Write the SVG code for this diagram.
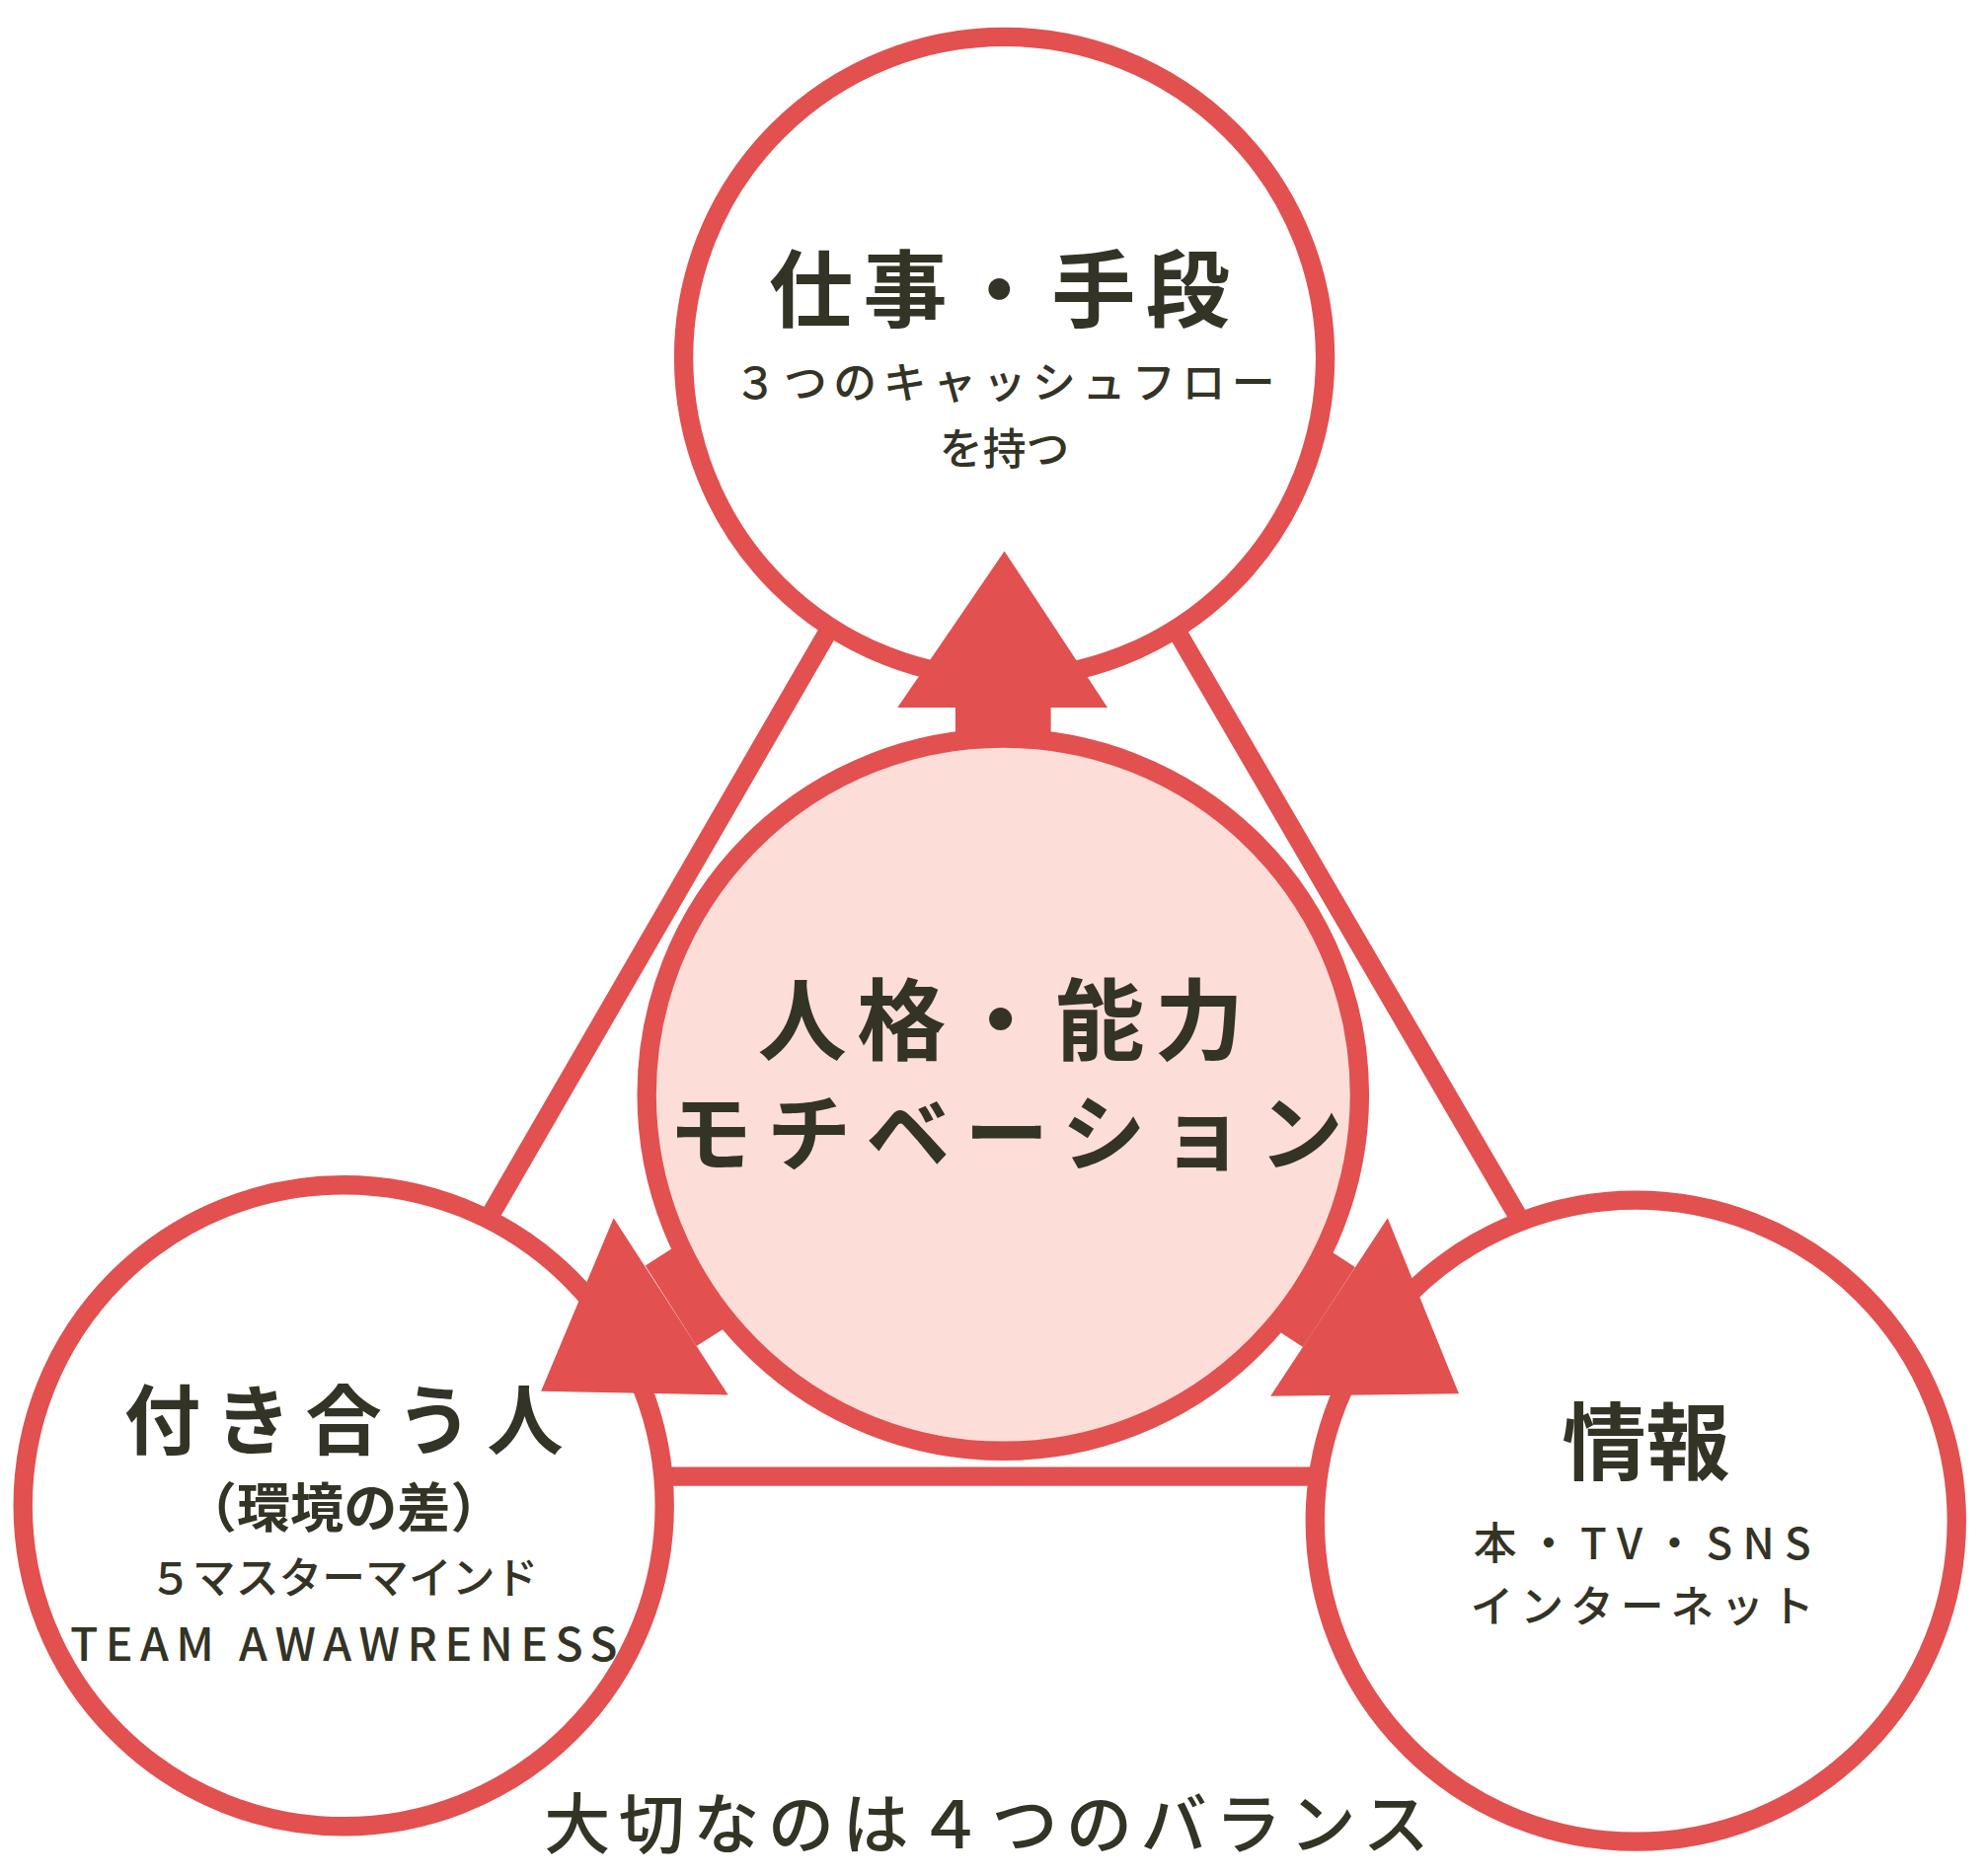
<svg xmlns="http://www.w3.org/2000/svg" width="2012" height="1901" viewBox="0 0 2012 1901">
<style>
.r{stroke:#E25050;stroke-width:15;fill:#fff}
.l{stroke:#E25050;stroke-width:15;fill:none}
.a{fill:#E25050}
.s{stroke:#E25050;stroke-width:75}
text{font-family:"Noto Sans CJK JP","Liberation Sans",sans-serif;fill:#333326;text-anchor:middle}
.b{font-weight:bold}
.m{font-weight:500}
</style>
<rect width="2012" height="1901" fill="#fff"/>
<g transform="scale(1.2897)">
<g id="connectors">
<line class="l" x1="650" y1="497" x2="385" y2="955"/>
<line class="l" x1="925" y1="497" x2="1192" y2="955"/>
<line class="l" x1="520" y1="1160" x2="1040" y2="1160"/>
</g>
<g id="work"><circle class="r" cx="789" cy="281" r="252"/>
<text class="b" x="789" y="252" font-size="66" letter-spacing="8">仕事・手段</text>
<text class="m" x="789" y="313" font-size="34" textLength="425">３つのキャッシュフロー</text>
<text class="m" x="789" y="365" font-size="34">を持つ</text></g>
<g id="people"><circle class="r" cx="270" cy="1183" r="252"/>
<text class="b" x="270" y="1138" font-size="60" textLength="345">付き合う人</text>
<text class="b" x="270" y="1200" font-size="42">（環境の差）</text>
<text class="m" x="270" y="1252" font-size="34">５マスターマインド</text>
<text class="m" x="270" y="1305" font-size="36" textLength="430">TEAM AWAWRENESS</text></g>
<g id="info"><circle class="r" cx="1285" cy="1195" r="252"/>
<text class="b" x="1293" y="1158" font-size="66">情報</text>
<text class="m" x="1290" y="1225" font-size="34" textLength="265">本・TV・SNS</text>
<text class="m" x="1290" y="1275" font-size="34" textLength="270">インターネット</text></g>
<g id="arrows">
<line class="s" x1="788" y1="860" x2="788" y2="550"/>
<polygon class="a" points="789,433 705,556 870,556"/>
<line class="s" x1="788" y1="860" x2="527" y2="1026"/>
<polygon class="a" points="425,1093 482,957 572,1096"/>
<line class="s" x1="788" y1="860" x2="1044" y2="1027"/>
<polygon class="a" points="1146,1095 1090,957 998,1097"/>
</g>
<g id="center"><circle cx="788" cy="860" r="280" fill="#FDDDD8" stroke="#E25050" stroke-width="15"/>
<text class="b" x="790" y="827" font-size="70" letter-spacing="8">人格・能力</text>
<text class="b" x="790" y="915" font-size="66" textLength="530">モチベーション</text></g>
<text class="m" x="775" y="1452" font-size="52" textLength="695">大切なのは４つのバランス</text>
</g>
</svg>
